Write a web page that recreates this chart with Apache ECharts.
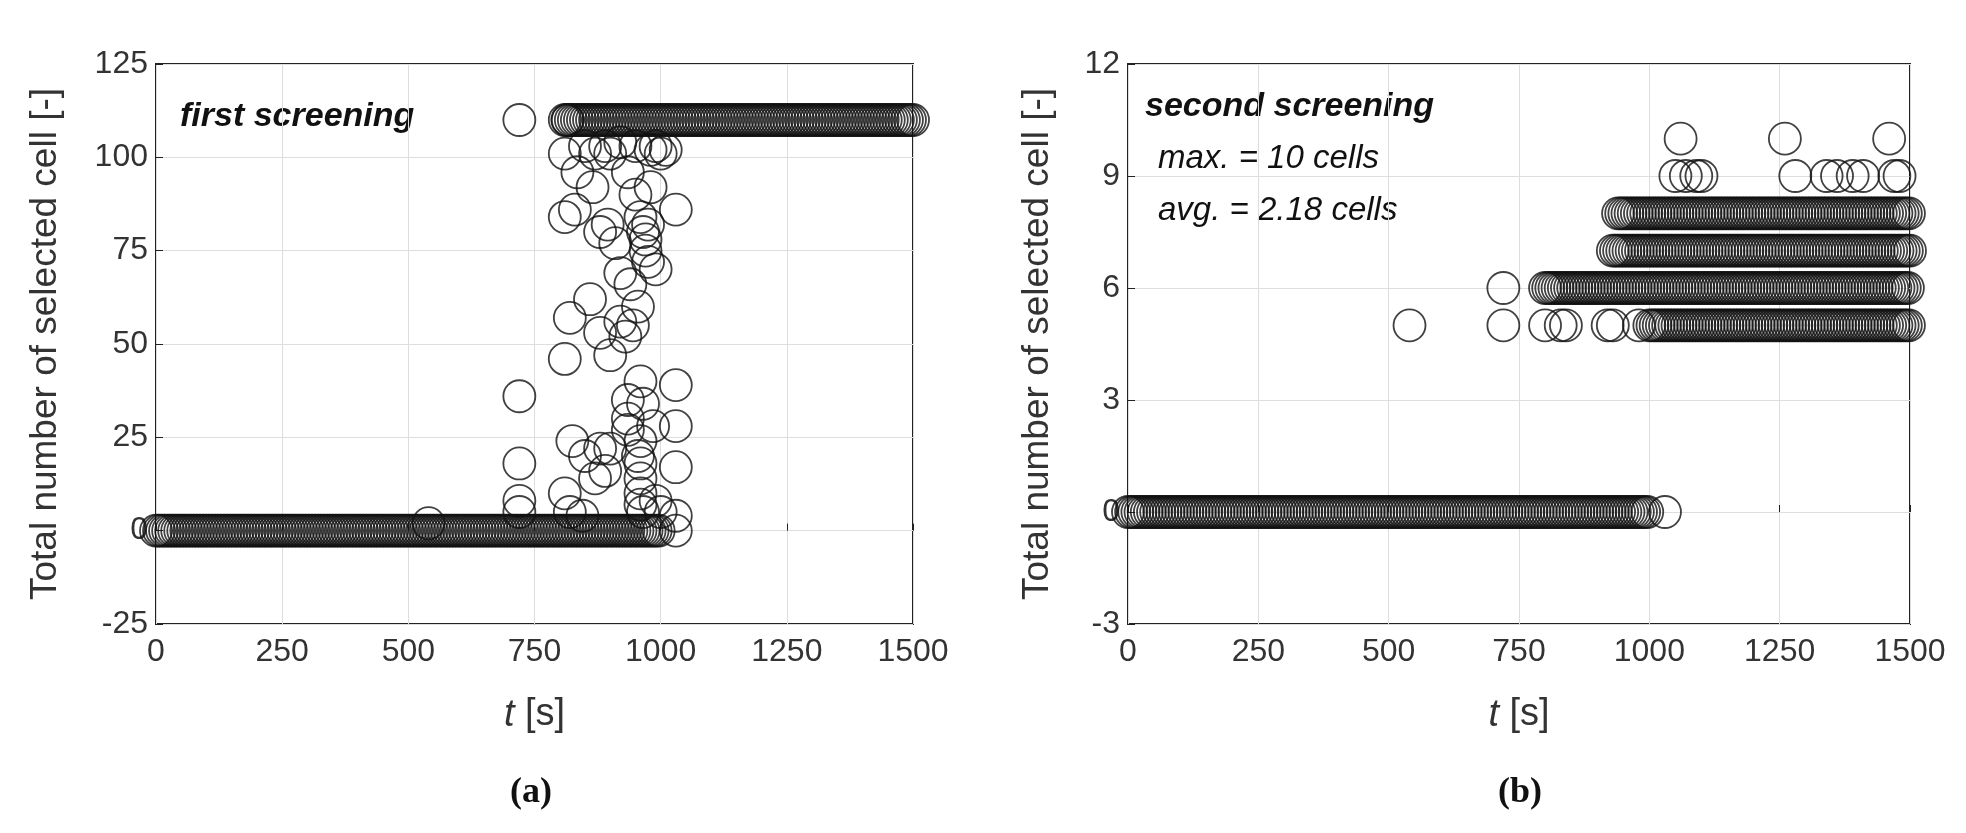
<!DOCTYPE html>
<html>
<head>
<meta charset="utf-8">
<script src="https://cdn.jsdelivr.net/npm/echarts@6/dist/echarts.min.js"></script>
<style>html,body{margin:0;background:#fff}#main{width:1966px;height:833px}</style>
</head>
<body>
<div id="main"></div>
<script>
// bands: [tStart, tEnd, step, value]
var bandsA = [[0, 1000, 6, 0], [810, 1500, 6, 110]];
var pointsA = [
    [720,110],[720,36],[720,18],[720,8],[720,5],[540,2],
    [810,101],[810,84],[810,46],[815,110],[820,57],[825,24],[830,86],[835,96],[860,62],[865,92],
    [880,80],[880,53],[895,82],[900,47],[910,77],[920,56],[920,69],[930,52],[935,96],[935,35],
    [935,30],[935,27],[940,66],[945,55],[950,90],[955,60],[960,40],[960,18],[960,14],[960,10],
    [965,34],[970,75],[975,82],[975,72],[980,92],[985,28],[990,70],[1030,86],[1030,39],[1030,28],
    [1030,17],[1030,4],[1030,0],[850,20],[870,14],[880,22],[890,16],[900,22],[810,10],[820,5],
    [845,4],[960,7],[965,5],[990,8],[1000,5],[850,103],[870,101],[890,103],[900,101],[920,104],
    [950,103],[980,102],[990,103],[1000,101],[1010,102],[960,84],[965,80],[970,78],[955,20],[960,24]
];
var bandsB = [[0, 1000, 6, 0], [1000, 1500, 6, 5], [800, 1500, 6, 6], [930, 1500, 6, 7], [940, 1500, 6, 8]];
var pointsB = [
    [1030,0],[540,5],[720,5],[800,5],[830,5],[840,5],[920,5],[930,5],[980,5],[720,6],
    [1050,9],[1070,9],[1090,9],[1100,9],[1280,9],[1340,9],[1360,9],[1390,9],[1410,9],[1470,9],[1480,9],
    [1060,10],[1260,10],[1460,10]
];

function expand(bands, pts) {
    var out = [];
    bands.forEach(function(b) {
        for (var t = b[0]; t <= b[1]; t += b[2]) out.push([t, b[3]]);
    });
    return out.concat(pts);
}

var font = 'Liberation Sans';
var grids = [
    {left: 156, width: 757, top: 64, height: 560, show: true, borderColor: '#222', borderWidth: 2},
    {left: 1128, width: 782, top: 64, height: 560, show: true, borderColor: '#222', borderWidth: 2}
];
function xAxis(i) {
    return {
        type: 'value', gridIndex: i, min: 0, max: 1500, interval: 250,
        name: '{i|t} [s]', nameLocation: 'middle', nameGap: 72,
        nameTextStyle: {fontFamily: font, fontSize: 38, color: '#333', rich: {i: {fontStyle: 'italic', fontSize: 38, color: '#333', fontFamily: font}}},
        axisLine: {show: false}, axisTick: {inside: true, length: 7, lineStyle: {color: '#222'}},
        axisLabel: {fontFamily: font, fontSize: 32, color: '#333', margin: 12, formatter: function(v) { return String(v); }},
        splitLine: {lineStyle: {color: '#ddd'}}
    };
}
function yAxis(i, min, max, step) {
    return {
        type: 'value', gridIndex: i, min: min, max: max, interval: step,
        name: 'Total number of selected cell [-]', nameLocation: 'middle', nameGap: i == 0 ? 92 : 72,
        nameTextStyle: {fontFamily: font, fontSize: 37, color: '#333'},
        axisLine: {show: false}, axisTick: {inside: true, length: 7, lineStyle: {color: '#222'}},
        axisLabel: {fontFamily: font, fontSize: 32, color: '#333', margin: 8},
        splitLine: {lineStyle: {color: '#ddd'}}
    };
}
function series(i, data) {
    return {
        type: 'scatter', xAxisIndex: i, yAxisIndex: i, data: data,
        symbol: 'circle', symbolSize: 32, silent: true,
        itemStyle: {color: 'rgba(0,0,0,0)', borderColor: '#111', borderWidth: 1.8}
    };
}

var myChart = echarts.init(document.getElementById('main'));
var option = {
    animation: false,
    backgroundColor: '#fff',
    grid: grids,
    xAxis: [xAxis(0), xAxis(1)],
    yAxis: [yAxis(0, -25, 125, 25), yAxis(1, -3, 12, 3)],
    series: [series(0, expand(bandsA, pointsA)), series(1, expand(bandsB, pointsB))],
    graphic: [
        {type: 'text', left: 180, top: 100, style: {text: 'first screening', font: 'italic bold 34px "Liberation Sans"', fill: '#111'}},
        {type: 'text', left: 1145, top: 90, style: {text: 'second screening', font: 'italic bold 34px "Liberation Sans"', fill: '#111'}},
        {type: 'text', left: 1158, top: 142, style: {text: 'max. = 10 cells', font: 'italic 33px "Liberation Sans"', fill: '#111'}},
        {type: 'text', left: 1158, top: 194, style: {text: 'avg. = 2.18 cells', font: 'italic 33px "Liberation Sans"', fill: '#111'}},
        {type: 'text', left: 510, top: 775, style: {text: '(a)', font: 'bold 36px "Liberation Serif"', fill: '#111'}},
        {type: 'text', left: 1498, top: 775, style: {text: '(b)', font: 'bold 36px "Liberation Serif"', fill: '#111'}}
    ]
};
myChart.setOption(option);
</script>
</body>
</html>
